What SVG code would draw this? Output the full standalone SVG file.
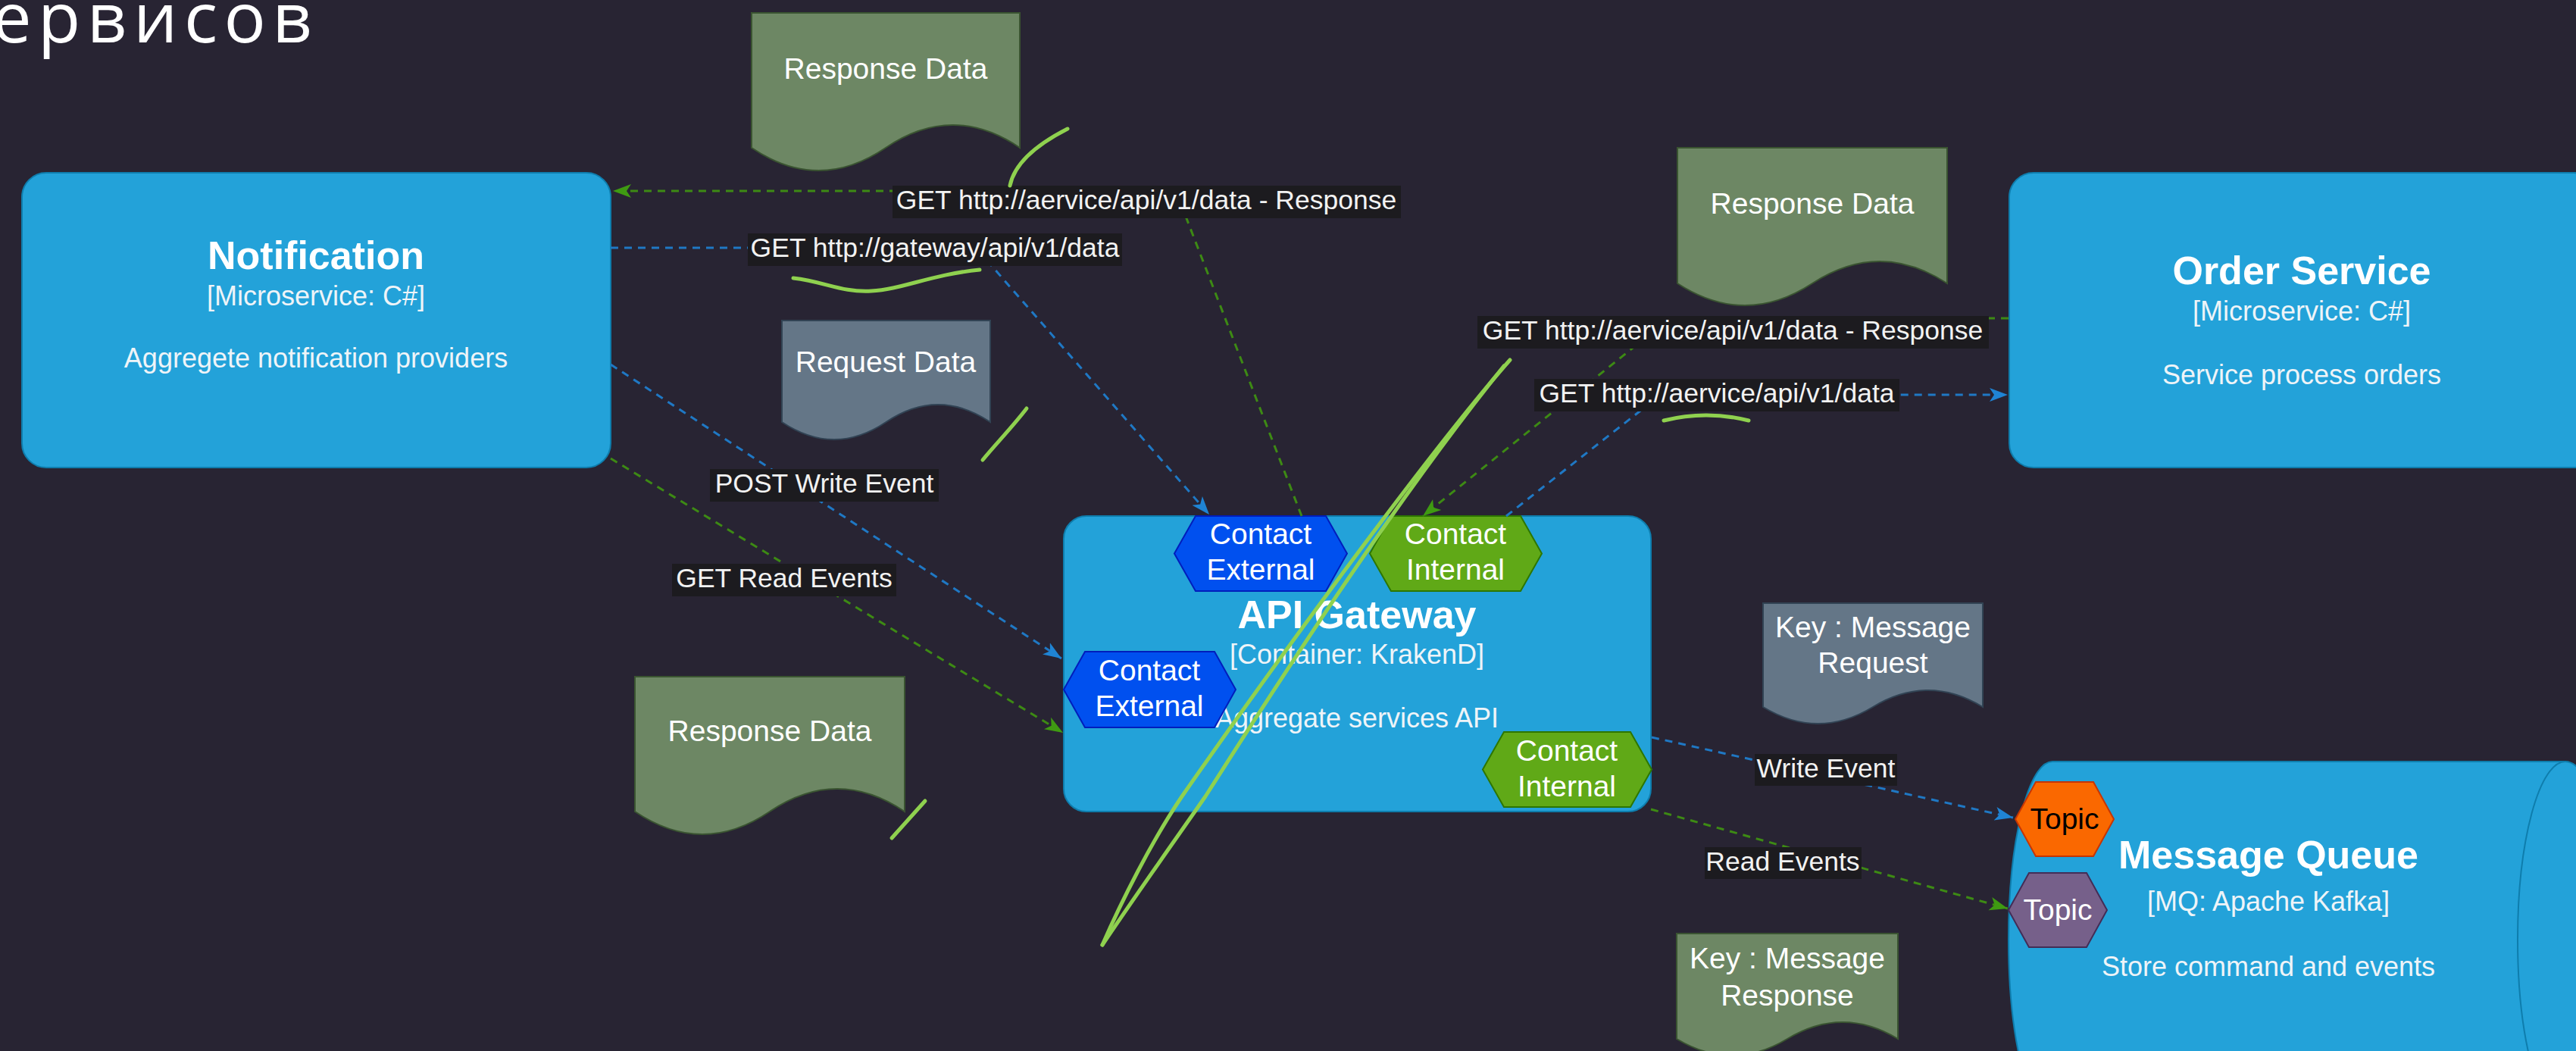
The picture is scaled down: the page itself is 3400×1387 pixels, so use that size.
<svg xmlns="http://www.w3.org/2000/svg" width="3400" height="1387" viewBox="0 0 3400 1387">
<defs>
<style>
.bg{fill:#282433}
.c4{fill:#23a2d9;stroke:#0e7dad;stroke-width:2}
.t{font-family:"Liberation Sans",Arial,sans-serif;fill:#ffffff;text-anchor:middle}
.title{font-size:52px;font-weight:bold}
.sub{font-size:36px;fill:#eef4f8}
.doc-t{font-size:39px}
.hex-t{font-size:39px}
.lbl{fill:#1c1b1f}
.lbl-t{font-family:"Liberation Sans",Arial,sans-serif;font-size:35.5px;fill:#f2f2f2;text-anchor:middle}
.docg{fill:#6d8764;stroke:#3a5431;stroke-width:2}
.docs{fill:#647687;stroke:#314354;stroke-width:2}
.ext{fill:#0050ef;stroke:#001dbc;stroke-width:2}
.int{fill:#60a917;stroke:#2d7600;stroke-width:2}
.blue{fill:none;stroke:#1f78c4;stroke-width:3;stroke-dasharray:10 8}
.green{fill:none;stroke:#3d8a14;stroke-width:3;stroke-dasharray:10 8}
.pen{fill:none;stroke:#8fd14f;stroke-width:5;stroke-linecap:round;stroke-linejoin:round}
</style>
<marker id="ab" markerUnits="userSpaceOnUse" markerWidth="26" markerHeight="20" refX="24" refY="10" orient="auto">
<path d="M0,1 L24,10 L0,19 L6,10 Z" fill="#1f84d4"/>
</marker>
<marker id="ag" markerUnits="userSpaceOnUse" markerWidth="26" markerHeight="20" refX="24" refY="10" orient="auto">
<path d="M0,1 L24,10 L0,19 L6,10 Z" fill="#3f9a12"/>
</marker>
</defs>
<rect class="bg" x="0" y="0" width="3400" height="1387"/>
<text x="-10" y="56" font-family="'Open Sans','Noto Sans',sans-serif" font-weight="400" font-size="92" fill="#ffffff" textLength="422" lengthAdjust="spacing">ервисов</text>

<g id="notification">
<rect class="c4" x="29" y="228" width="777" height="389" rx="32"/>
<text class="t title" x="417" y="355">Notification</text>
<text class="t sub" x="417" y="403">[Microservice: C#]</text>
<text class="t sub" x="417" y="485">Aggregete notification providers</text>
</g>

<g id="order-service">
<rect class="c4" x="2652" y="228" width="777" height="389" rx="32"/>
<text class="t title" x="3038" y="375">Order Service</text>
<text class="t sub" x="3038" y="423">[Microservice: C#]</text>
<text class="t sub" x="3038" y="507">Service process orders</text>
</g>

<g id="api-gateway">
<rect class="c4" x="1404" y="681" width="775" height="390" rx="30"/>
<text class="t title" x="1791" y="829">API Gateway</text>
<text class="t sub" x="1791" y="876">[Container: KrakenD]</text>
<text class="t sub" x="1791" y="960">Aggregate services API</text>
</g>

<g id="contact-external-top">
<polygon class="ext" points="1578,681 1750,681 1778,730.5 1750,780 1578,780 1550,730.5"/>
<text class="t hex-t" x="1664" y="718">Contact</text>
<text class="t hex-t" x="1664" y="765">External</text>
</g>
<g id="contact-internal-top">
<polygon class="int" points="1836,681 2007,681 2035,730.5 2007,780 1836,780 1808,730.5"/>
<text class="t hex-t" x="1921" y="718">Contact</text>
<text class="t hex-t" x="1921" y="765">Internal</text>
</g>
<g id="contact-external-left">
<polygon class="ext" points="1432,860 1603,860 1631,910 1603,960 1432,960 1404,910"/>
<text class="t hex-t" x="1517" y="898">Contact</text>
<text class="t hex-t" x="1517" y="945">External</text>
</g>
<g id="contact-internal-right">
<polygon class="int" points="1985,966 2152,966 2180,1015.5 2152,1065 1985,1065 1957,1015.5"/>
<text class="t hex-t" x="2068" y="1004">Contact</text>
<text class="t hex-t" x="2068" y="1051">Internal</text>
</g>

<g id="message-queue">
<path class="c4" d="M2709,1005 H3386 A63,235 0 0 1 3386,1475 H2709 A58,235 0 0 1 2709,1005 Z"/>
<path d="M3386,1005 A63,235 0 0 0 3386,1475" fill="none" stroke="#0e7dad" stroke-width="2"/>
<text class="t title" x="2994" y="1146">Message Queue</text>
<text class="t sub" x="2994" y="1202">[MQ: Apache Kafka]</text>
<text class="t sub" x="2994" y="1288">Store command and events</text>
</g>
<g id="topic-write">
<polygon points="2687,1032 2763,1032 2790,1081 2763,1130 2687,1130 2660,1081" fill="#fa6800" stroke="#c73500" stroke-width="2"/>
<text class="t hex-t" x="2725" y="1094" style="fill:#000000">Topic</text>
</g>
<g id="topic-read">
<polygon points="2678,1152 2754,1152 2781,1201 2754,1250 2678,1250 2651,1201" fill="#76608a" stroke="#432d57" stroke-width="2"/>
<text class="t hex-t" x="2716" y="1214">Topic</text>
</g>

<g id="doc-response-top">
<path class="docg" d="M992,17 H1346 V195 Q1257.5,135 1169,195 Q1080.5,255 992,195 Z"/>
<text class="t doc-t" x="1169" y="104">Response Data</text>
</g>
<g id="doc-request">
<path class="docs" d="M1032,423 H1307 V557 Q1238,511 1169.5,557 Q1101,603 1032,557 Z"/>
<text class="t doc-t" x="1169" y="491">Request Data</text>
</g>
<g id="doc-response-left">
<path class="docg" d="M838,893 H1194 V1071 Q1105,1011 1016,1071 Q927,1131 838,1071 Z"/>
<text class="t doc-t" x="1016" y="978">Response Data</text>
</g>
<g id="doc-response-right">
<path class="docg" d="M2214,195 H2570 V374 Q2481,316 2392,374 Q2303,432 2214,374 Z"/>
<text class="t doc-t" x="2392" y="282">Response Data</text>
</g>
<g id="doc-key-request">
<path class="docs" d="M2327,796 H2617 V933 Q2544.5,889 2472,933 Q2399.5,977 2327,933 Z"/>
<text class="t doc-t" x="2472" y="841">Key : Message</text>
<text class="t doc-t" x="2472" y="888">Request</text>
</g>
<g id="doc-key-response">
<path class="docg" d="M2213,1232 H2505 V1371 Q2432,1327 2359,1371 Q2286,1415 2213,1371 Z"/>
<text class="t doc-t" x="2359" y="1278">Key : Message</text>
<text class="t doc-t" x="2359" y="1327">Response</text>
</g>

<g id="connectors">
<path class="green" d="M1718,681 L1552,252 L809,252" marker-end="url(#ag)"/>
<path class="blue" d="M806,327 L1288,327 L1596,679" marker-end="url(#ab)"/>
<path class="blue" d="M806,481 L1401,869" marker-end="url(#ab)"/>
<path class="green" d="M806,605 L1403,967" marker-end="url(#ag)"/>
<path class="blue" d="M1988,681 L2192,521 L2650,521" marker-end="url(#ab)"/>
<path class="green" d="M2651,420 L2204,420 L1878,681" marker-end="url(#ag)"/>
<path class="blue" d="M2180,973 L2657,1079" marker-end="url(#ab)"/>
<path class="green" d="M2179,1068 L2650,1199" marker-end="url(#ag)"/>
<rect class="lbl" x="1178" y="245" width="671" height="43"/>
<text class="lbl-t" x="1513" y="276">GET http://aervice/api/v1/data - Response</text>
<rect class="lbl" x="987" y="308" width="494" height="43"/>
<text class="lbl-t" x="1234" y="339">GET http://gateway/api/v1/data</text>
<rect class="lbl" x="937" y="619" width="302" height="43"/>
<text class="lbl-t" x="1088" y="650">POST Write Event</text>
<rect class="lbl" x="887" y="744" width="296" height="43"/>
<text class="lbl-t" x="1035" y="775">GET Read Events</text>
<rect class="lbl" x="1950" y="417" width="675" height="43"/>
<text class="lbl-t" x="2287" y="448">GET http://aervice/api/v1/data - Response</text>
<rect class="lbl" x="2025" y="500" width="482" height="43"/>
<text class="lbl-t" x="2266" y="531">GET http://aervice/api/v1/data</text>
<rect class="lbl" x="2316" y="995" width="188" height="42"/>
<text class="lbl-t" x="2410" y="1026">Write Event</text>
<rect class="lbl" x="2250" y="1118" width="207" height="42"/>
<text class="lbl-t" x="2353" y="1149">Read Events</text>
</g>

<g id="annotations">
<path class="pen" d="M1333,245 C1338,220 1360,195 1409,170"/>
<path class="pen" d="M1047,367 C1090,372 1110,386 1150,384 C1190,382 1230,362 1293,356"/>
<path class="pen" d="M1297,607 C1315,585 1335,565 1355,539"/>
<path class="pen" d="M2196,555 Q2252,541 2308,555"/>
<path class="pen" d="M1177,1106 L1221,1057"/>
<path class="pen" d="M1993,475 C1900,580 1700,850 1560,1051 C1520,1110 1480,1190 1455,1247"/>
<path class="pen" d="M1455,1247 C1500,1180 1550,1110 1591,1051 C1700,880 1850,650 1985,483"/>
</g>
</svg>
